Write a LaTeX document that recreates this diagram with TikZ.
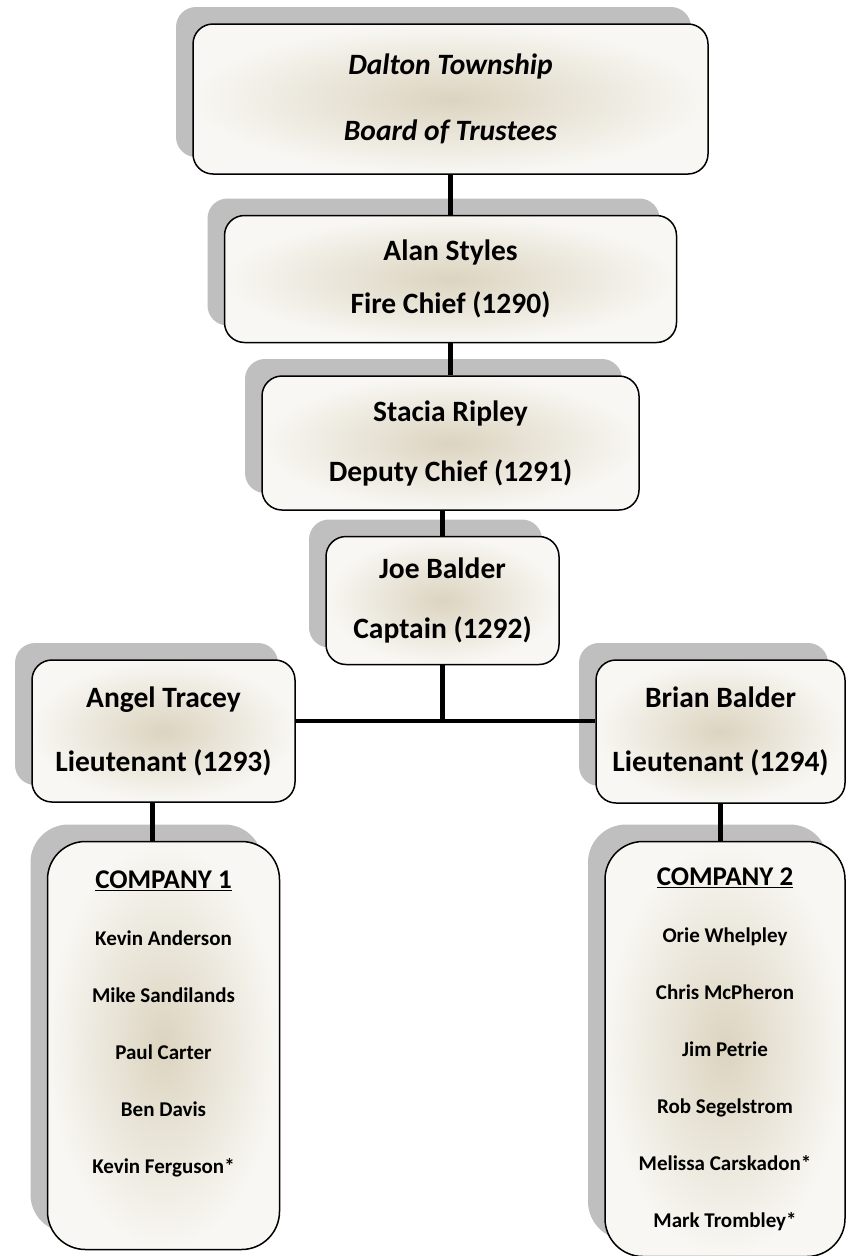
\documentclass[tikz,border=0pt]{standalone}
\usepackage{fontspec}
\setmainfont{Carlito}
\usetikzlibrary{positioning,shadows}

\definecolor{shadowgray}{RGB}{191,191,191}
\definecolor{glowin}{RGB}{220,212,192}
\definecolor{glowout}{RGB}{248,247,243}

\tikzset{
	chartbox/.style={draw=black, line width=1.5pt, rounded corners=20pt,
		shading=radial, inner color=glowin, outer color=glowout,
		general shadow={fill=shadowgray, shadow xshift=-17pt, shadow yshift=17pt},
		align=center, inner sep=0pt},
	rankbox/.style={chartbox, font=\bfseries\fontsize{29.5}{#1}\selectfont},
	crewbox/.style={chartbox, rounded corners=38pt, font=\bfseries\fontsize{21}{57}\selectfont},
	link/.style={line width=4.5pt}
}
\newcommand{\crewhead}[1]{{\fontsize{27}{57}\selectfont\underline{#1}}}

\begin{document}
\begin{tikzpicture}[x=1pt,y=-1pt]
	\useasboundingbox (0,0) rectangle (846,1256);
	
	\node[chartbox, font=\bfseries\itshape\fontsize{29.5}{66}\selectfont, minimum width=515pt, minimum height=150pt] (board) at (450.5,99) {Dalton Township\\Board of Trustees};
	\node[rankbox=53, minimum width=452pt, minimum height=127pt, below=40pt of board] (alan) {Alan Styles\\Fire Chief (1290)};
	\node[rankbox=60, minimum width=377pt, minimum height=134pt, below=32pt of alan] (stacia) {Stacia Ripley\\Deputy Chief (1291)};
	\node[rankbox=60, minimum width=233pt, minimum height=128pt, below=25pt of stacia, xshift=-8pt] (joe) {Joe Balder\\Captain (1292)};
	
	\node[rankbox=64, minimum width=263pt, minimum height=142pt] (angel) at (163.5,731) {Angel Tracey\\Lieutenant (1293)};
	\node[rankbox=64, minimum width=249pt, minimum height=143pt] (brian) at (720.5,731.5) {Brian Balder\\Lieutenant (1294)};
	
	\node[crewbox, minimum width=232pt, minimum height=408pt, below=38pt of angel] (co1) {\crewhead{COMPANY 1}\\Kevin Anderson\\Mike Sandilands\\Paul Carter\\Ben Davis\\Kevin Ferguson*\\[-27pt]\strut};
	\node[crewbox, minimum width=240pt, minimum height=415pt, below=37pt of brian, xshift=4.5pt] (co2) {\crewhead{COMPANY 2}\\Orie Whelpley\\Chris McPheron\\Jim Petrie\\Rob Segelstrom\\Melissa Carskadon*\\Mark Trombley*};
	
	% chain of command
	\coordinate (bus) at ([yshift=10pt]angel.east);
	\draw[link] (alan.north) -- (alan.north |- board.south);
	\draw[link] (stacia.north) -- (stacia.north |- alan.south);
	\draw[link] (joe.north) -- (joe.north |- stacia.south);
	\draw[link] (joe.south) -- (joe.south |- bus);
	\draw[link] (bus) -- (bus -| brian.west);
	\draw[link] ([xshift=-11pt]angel.south) -- ([xshift=-11pt]angel.south |- co1.north);
	\draw[link] (brian.south) -- (brian.south |- co2.north);
	
\end{tikzpicture}
\end{document}
